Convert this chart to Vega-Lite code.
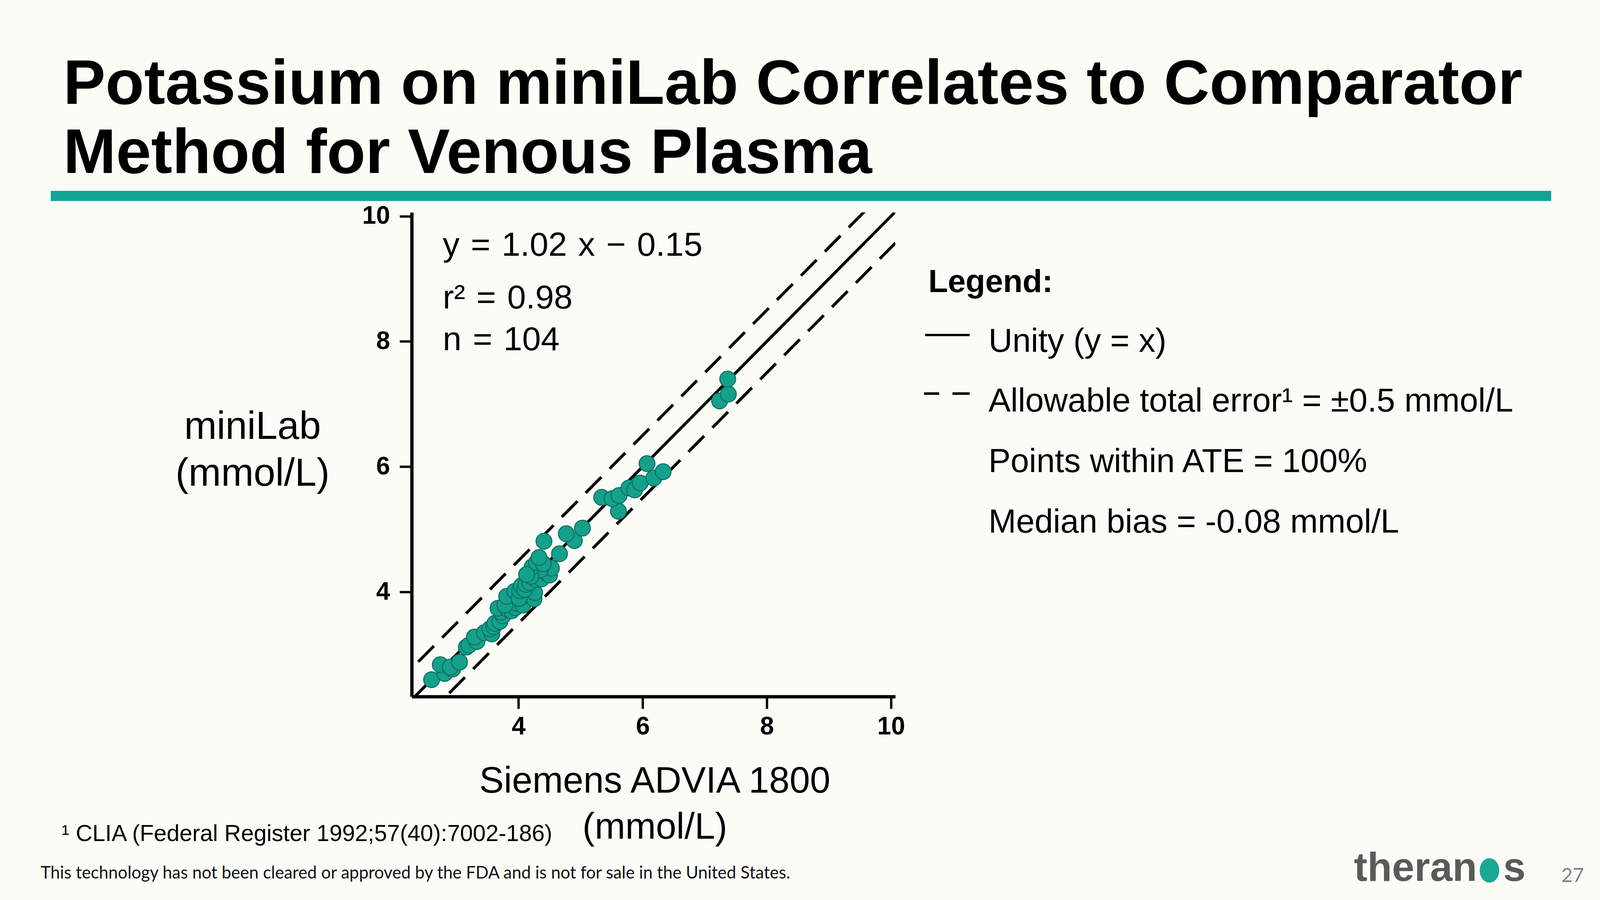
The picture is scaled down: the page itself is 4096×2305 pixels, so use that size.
{
  "$schema": "https://vega.github.io/schema/vega-lite/v6.json",
  "width": 1238,
  "height": 1240,
  "autosize": {"type": "none"},
  "padding": {"left": 1054, "top": 544, "right": 1804, "bottom": 521},
  "background": "#fcfcf7",
  "config": {
    "view": {"stroke": null},
    "font": "Liberation Sans",
    "axis": {
      "grid": false,
      "format": "d",
      "domainColor": "#000000",
      "domainWidth": 8.5,
      "tickColor": "#000000",
      "tickWidth": 6,
      "tickSize": 31,
      "labelFont": "Liberation Sans",
      "labelFontWeight": "bold",
      "labelFontSize": 64,
      "labelColor": "#000000",
      "labelFlush": false,
      "labelOverlap": false,
      "titleFont": "Liberation Sans",
      "titleFontWeight": "normal",
      "titleColor": "#000000"
    }
  },
  "datasets": {
    "points": [
      {"siemens": 2.60, "minilab": 2.60},
      {"siemens": 2.81, "minilab": 2.70},
      {"siemens": 2.74, "minilab": 2.84},
      {"siemens": 2.94, "minilab": 2.77},
      {"siemens": 2.90, "minilab": 2.80},
      {"siemens": 3.05, "minilab": 2.88},
      {"siemens": 3.16, "minilab": 3.12},
      {"siemens": 3.20, "minilab": 3.15},
      {"siemens": 3.33, "minilab": 3.21},
      {"siemens": 3.29, "minilab": 3.28},
      {"siemens": 3.45, "minilab": 3.35},
      {"siemens": 3.57, "minilab": 3.33},
      {"siemens": 3.54, "minilab": 3.41},
      {"siemens": 3.60, "minilab": 3.45},
      {"siemens": 3.62, "minilab": 3.50},
      {"siemens": 3.70, "minilab": 3.53},
      {"siemens": 3.75, "minilab": 3.62},
      {"siemens": 3.72, "minilab": 3.68},
      {"siemens": 3.67, "minilab": 3.74},
      {"siemens": 3.83, "minilab": 3.72},
      {"siemens": 3.89, "minilab": 3.70},
      {"siemens": 3.85, "minilab": 3.85},
      {"siemens": 3.95, "minilab": 3.75},
      {"siemens": 3.97, "minilab": 3.82},
      {"siemens": 4.07, "minilab": 3.79},
      {"siemens": 4.15, "minilab": 3.95},
      {"siemens": 4.25, "minilab": 3.89},
      {"siemens": 4.26, "minilab": 3.99},
      {"siemens": 3.92, "minilab": 3.95},
      {"siemens": 3.78, "minilab": 3.79},
      {"siemens": 3.81, "minilab": 3.93},
      {"siemens": 3.94, "minilab": 4.01},
      {"siemens": 4.01, "minilab": 3.90},
      {"siemens": 4.02, "minilab": 4.02},
      {"siemens": 4.05, "minilab": 4.10},
      {"siemens": 4.10, "minilab": 4.04},
      {"siemens": 4.12, "minilab": 4.12},
      {"siemens": 4.18, "minilab": 4.15},
      {"siemens": 4.28, "minilab": 4.20},
      {"siemens": 4.37, "minilab": 4.21},
      {"siemens": 4.45, "minilab": 4.30},
      {"siemens": 4.50, "minilab": 4.27},
      {"siemens": 4.53, "minilab": 4.38},
      {"siemens": 4.35, "minilab": 4.35},
      {"siemens": 4.20, "minilab": 4.25},
      {"siemens": 4.22, "minilab": 4.40},
      {"siemens": 4.13, "minilab": 4.28},
      {"siemens": 4.29, "minilab": 4.47},
      {"siemens": 4.40, "minilab": 4.45},
      {"siemens": 4.33, "minilab": 4.55},
      {"siemens": 4.41, "minilab": 4.81},
      {"siemens": 4.66, "minilab": 4.61},
      {"siemens": 4.90, "minilab": 4.82},
      {"siemens": 4.77, "minilab": 4.93},
      {"siemens": 5.03, "minilab": 5.02},
      {"siemens": 5.34, "minilab": 5.51},
      {"siemens": 5.61, "minilab": 5.29},
      {"siemens": 5.51, "minilab": 5.49},
      {"siemens": 5.62, "minilab": 5.54},
      {"siemens": 5.78, "minilab": 5.66},
      {"siemens": 5.87, "minilab": 5.63},
      {"siemens": 5.96, "minilab": 5.74},
      {"siemens": 6.18, "minilab": 5.82},
      {"siemens": 6.33, "minilab": 5.92},
      {"siemens": 6.07, "minilab": 6.05},
      {"siemens": 7.24, "minilab": 7.05},
      {"siemens": 7.38, "minilab": 7.16},
      {"siemens": 7.37, "minilab": 7.40}
    ]
  },
  "layer": [
    {
      "data": {"values": [{}]},
      "mark": {"type": "rect", "color": "#12a493"},
      "encoding": {
        "x": {"datum": -3.535, "type": "quantitative"},
        "x2": {"datum": 20.635},
        "y": {"datum": 10.404, "type": "quantitative"},
        "y2": {"datum": 10.242}
      }
    },
    {
      "data": {"values": [{"siemens": 2.0, "minilab": 2.0, "siemens2": 10.4, "minilab2": 10.4}]},
      "mark": {"type": "rule", "clip": true, "color": "#000000", "strokeWidth": 7.5},
      "encoding": {
        "x": {"field": "siemens", "type": "quantitative"},
        "y": {"field": "minilab", "type": "quantitative"},
        "x2": {"field": "siemens2"},
        "y2": {"field": "minilab2"}
      }
    },
    {
      "data": {"values": [
        {"siemens": 2.0, "minilab": 2.5, "siemens2": 9.9, "minilab2": 10.4},
        {"siemens": 2.5, "minilab": 2.0, "siemens2": 10.4, "minilab2": 9.9}
      ]},
      "mark": {"type": "rule", "clip": true, "color": "#000000", "strokeWidth": 7.5, "strokeDash": [57, 30]},
      "encoding": {
        "x": {"field": "siemens", "type": "quantitative"},
        "y": {"field": "minilab", "type": "quantitative"},
        "x2": {"field": "siemens2"},
        "y2": {"field": "minilab2"}
      }
    },
    {
      "data": {"name": "points"},
      "mark": {"type": "circle", "size": 1650, "opacity": 1, "color": "#14a08a", "stroke": "#0b6f60", "strokeWidth": 2.5},
      "encoding": {
        "x": {
          "field": "siemens",
          "type": "quantitative",
          "title": ["Siemens ADVIA 1800", "(mmol/L)"],
          "scale": {"domain": [2.28, 10.07], "nice": false, "zero": false},
          "axis": {
            "values": [4, 6, 8, 10],
            "format": "d",
            "labelPadding": 14,
            "titleFontSize": 94,
            "titleAlign": "center",
            "titleBaseline": "alphabetic",
            "titleX": 622,
            "titleY": 245,
            "titleLineHeight": 118
          }
        },
        "y": {
          "field": "minilab",
          "type": "quantitative",
          "title": ["miniLab", "(mmol/L)"],
          "scale": {"domain": [2.33, 10.06], "nice": false, "zero": false},
          "axis": {
            "values": [4, 6, 8, 10],
            "format": "d",
            "labelPadding": 25,
            "titleAngle": 0,
            "titleFontSize": 100,
            "titleAlign": "center",
            "titleBaseline": "alphabetic",
            "titleX": -408,
            "titleY": 579,
            "titleLineHeight": 120
          }
        }
      }
    },
    {
      "data": {"values": [{}]},
      "mark": {"type": "text", "align": "left", "baseline": "alphabetic", "font": "Liberation Sans", "fontWeight": "bold", "fontSize": 162, "lineHeight": 177, "color": "#000000"},
      "encoding": {
        "x": {"datum": -3.333, "type": "quantitative"},
        "y": {"datum": 11.795, "type": "quantitative"},
        "text": {"value": ["Potassium on miniLab Correlates to Comparator", "Method for Venous Plasma"]}
      }
    },
    {
      "data": {"values": [{}]},
      "mark": {"type": "text", "align": "left", "baseline": "alphabetic", "font": "Liberation Sans", "fontSize": 86, "color": "#000000"},
      "encoding": {
        "x": {"datum": 2.781, "type": "quantitative"},
        "y": {"datum": 9.369, "type": "quantitative"},
        "text": {"value": "y\u2004=\u20041.02\u2004x\u2004−\u20040.15"}
      }
    },
    {
      "data": {"values": [{}]},
      "mark": {"type": "text", "align": "left", "baseline": "alphabetic", "font": "Liberation Sans", "fontSize": 86, "color": "#000000"},
      "encoding": {
        "x": {"datum": 2.781, "type": "quantitative"},
        "y": {"datum": 8.527, "type": "quantitative"},
        "text": {"value": "r²\u2004=\u20040.98"}
      }
    },
    {
      "data": {"values": [{}]},
      "mark": {"type": "text", "align": "left", "baseline": "alphabetic", "font": "Liberation Sans", "fontSize": 86, "color": "#000000"},
      "encoding": {
        "x": {"datum": 2.781, "type": "quantitative"},
        "y": {"datum": 7.860, "type": "quantitative"},
        "text": {"value": "n\u2004=\u2004104"}
      }
    },
    {
      "data": {"values": [{}]},
      "mark": {"type": "text", "align": "left", "baseline": "alphabetic", "font": "Liberation Sans", "fontWeight": "bold", "fontSize": 82, "color": "#000000"},
      "encoding": {
        "x": {"datum": 10.601, "type": "quantitative"},
        "y": {"datum": 8.789, "type": "quantitative"},
        "text": {"value": "Legend:"}
      }
    },
    {
      "data": {"values": [{}]},
      "mark": {"type": "rule", "color": "#000000", "strokeWidth": 6},
      "encoding": {
        "x": {"datum": 10.551, "type": "quantitative"},
        "x2": {"datum": 11.268},
        "y": {"datum": 8.103, "type": "quantitative"}
      }
    },
    {
      "data": {"values": [{}]},
      "mark": {"type": "rule", "color": "#000000", "strokeWidth": 6.5},
      "encoding": {
        "x": {"datum": 10.532, "type": "quantitative"},
        "x2": {"datum": 10.777},
        "y": {"datum": 7.168, "type": "quantitative"}
      }
    },
    {
      "data": {"values": [{}]},
      "mark": {"type": "rule", "color": "#000000", "strokeWidth": 6.5},
      "encoding": {
        "x": {"datum": 10.991, "type": "quantitative"},
        "x2": {"datum": 11.268},
        "y": {"datum": 7.168, "type": "quantitative"}
      }
    },
    {
      "data": {"values": [{}]},
      "mark": {"type": "text", "align": "left", "baseline": "alphabetic", "font": "Liberation Sans", "fontSize": 85, "color": "#000000"},
      "encoding": {
        "x": {"datum": 11.570, "type": "quantitative"},
        "y": {"datum": 7.835, "type": "quantitative"},
        "text": {"value": "Unity (y = x)"}
      }
    },
    {
      "data": {"values": [{}]},
      "mark": {"type": "text", "align": "left", "baseline": "alphabetic", "font": "Liberation Sans", "fontSize": 85, "color": "#000000"},
      "encoding": {
        "x": {"datum": 11.570, "type": "quantitative"},
        "y": {"datum": 6.881, "type": "quantitative"},
        "text": {"value": "Allowable total error¹ = ±0.5 mmol/L"}
      }
    },
    {
      "data": {"values": [{}]},
      "mark": {"type": "text", "align": "left", "baseline": "alphabetic", "font": "Liberation Sans", "fontSize": 85, "color": "#000000"},
      "encoding": {
        "x": {"datum": 11.570, "type": "quantitative"},
        "y": {"datum": 5.915, "type": "quantitative"},
        "text": {"value": "Points within ATE = 100%"}
      }
    },
    {
      "data": {"values": [{}]},
      "mark": {"type": "text", "align": "left", "baseline": "alphabetic", "font": "Liberation Sans", "fontSize": 85, "color": "#000000"},
      "encoding": {
        "x": {"datum": 11.570, "type": "quantitative"},
        "y": {"datum": 4.948, "type": "quantitative"},
        "text": {"value": "Median bias = -0.08 mmol/L"}
      }
    },
    {
      "data": {"values": [{}]},
      "mark": {"type": "text", "align": "left", "baseline": "alphabetic", "font": "Liberation Sans", "fontSize": 59, "color": "#000000"},
      "encoding": {
        "x": {"datum": -3.359, "type": "quantitative"},
        "y": {"datum": 0.023, "type": "quantitative"},
        "text": {"value": "¹ CLIA (Federal Register 1992;57(40):7002-186)"}
      }
    },
    {
      "data": {"values": [{}]},
      "mark": {"type": "text", "align": "left", "baseline": "alphabetic", "font": "Lato", "fontSize": 43.5, "color": "#111111"},
      "encoding": {
        "x": {"datum": -3.698, "type": "quantitative"},
        "y": {"datum": -0.576, "type": "quantitative"},
        "text": {"value": "This technology has not been cleared or approved by the FDA and is not for sale in the United States."}
      }
    },
    {
      "data": {"values": [{}]},
      "mark": {"type": "text", "align": "right", "baseline": "alphabetic", "font": "Liberation Sans", "fontWeight": "bold", "fontSize": 103, "color": "#5a5a5a"},
      "encoding": {
        "x": {"datum": 19.440, "type": "quantitative"},
        "y": {"datum": -0.613, "type": "quantitative"},
        "text": {"value": "theran"}
      }
    },
    {
      "data": {"values": [{}]},
      "mark": {"type": "point", "filled": true, "shape": "M-0.8,0A0.8,1,0,1,0,0.8,0A0.8,1,0,1,0,-0.8,0Z", "size": 3900, "color": "#1aa894", "opacity": 1},
      "encoding": {
        "x": {"datum": 19.641, "type": "quantitative"},
        "y": {"datum": -0.445, "type": "quantitative"}
      }
    },
    {
      "data": {"values": [{}]},
      "mark": {"type": "text", "align": "left", "baseline": "alphabetic", "font": "Liberation Sans", "fontWeight": "bold", "fontSize": 103, "color": "#5a5a5a"},
      "encoding": {
        "x": {"datum": 19.862, "type": "quantitative"},
        "y": {"datum": -0.613, "type": "quantitative"},
        "text": {"value": "s"}
      }
    },
    {
      "data": {"values": [{}]},
      "mark": {"type": "text", "align": "center", "baseline": "alphabetic", "font": "Lato", "fontSize": 50, "color": "#808080"},
      "encoding": {
        "x": {"datum": 20.981, "type": "quantitative"},
        "y": {"datum": -0.632, "type": "quantitative"},
        "text": {"value": "27"}
      }
    }
  ]
}
